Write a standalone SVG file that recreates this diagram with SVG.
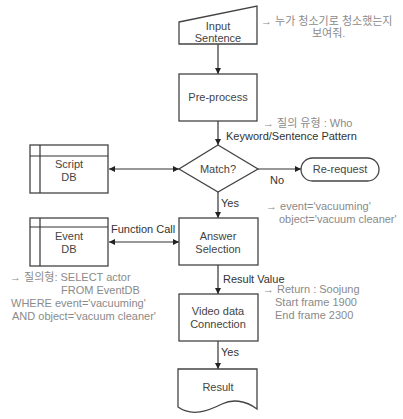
<svg xmlns="http://www.w3.org/2000/svg" width="403" height="419" viewBox="0 0 403 419">
<defs>
<marker id="ah" viewBox="0 0 10 10" refX="10" refY="5" markerWidth="6" markerHeight="6" markerUnits="userSpaceOnUse" orient="auto-start-reverse">
<path d="M0,0 L10,5 L0,10 Z" fill="#222"/>
</marker>
<style>
.s{fill:#fff;stroke:#444;stroke-width:1.3}
.l{fill:none;stroke:#333;stroke-width:1.2}
.t{font-family:"Liberation Sans","Noto Sans CJK KR",sans-serif;font-size:11px;fill:#444;text-anchor:middle}
.a{font-family:"Liberation Sans","Noto Sans CJK KR",sans-serif;font-size:11px;fill:#8a8a8a}
.c{font-family:"Liberation Sans","Noto Sans CJK KR",sans-serif;font-size:11px;fill:#333}
</style>
</defs>
<rect width="403" height="419" fill="#fff"/>

<g id="connectors">
<line class="l" x1="218" y1="44" x2="218" y2="74" marker-end="url(#ah)"/>
<line class="l" x1="218" y1="121" x2="218" y2="145" marker-end="url(#ah)"/>
<line class="l" x1="109" y1="169" x2="179" y2="169" marker-start="url(#ah)" marker-end="url(#ah)"/>
<line class="l" x1="258" y1="169" x2="301" y2="169" marker-end="url(#ah)"/>
<text class="c" x="270" y="184">No</text>
<line class="l" x1="218" y1="192" x2="218" y2="218" marker-end="url(#ah)"/>
<text class="c" x="221" y="207">Yes</text>
<line class="l" x1="109" y1="242" x2="179" y2="242" marker-start="url(#ah)" marker-end="url(#ah)"/>
<text class="c" x="111" y="233">Function Call</text>
<line class="l" x1="218" y1="265" x2="218" y2="294" marker-end="url(#ah)"/>
<text class="c" x="223" y="283">Result Value</text>
<line class="l" x1="218" y1="341" x2="218" y2="369" marker-end="url(#ah)"/>
<text class="c" x="221" y="356">Yes</text>
</g>

<g id="input">
<polygon class="s" points="179,22 257,6 257,44 179,44"/>
<text class="t" x="218" y="30">Input</text>
<text class="t" x="218" y="42">Sentence</text>
</g>

<g id="preprocess">
<rect class="s" x="179" y="74" width="78" height="47"/>
<text class="t" x="218" y="101">Pre-process</text>
</g>

<g id="match">
<polygon class="s" points="218,145 258,169 218,192 179,169"/>
<text class="t" x="218" y="173">Match?</text>
</g>

<g id="scriptdb">
<rect class="s" x="30" y="145" width="78" height="48"/>
<line class="l" x1="40" y1="145" x2="40" y2="193"/>
<line class="l" x1="30" y1="156" x2="108" y2="156"/>
<text class="t" x="69" y="168">Script</text>
<text class="t" x="69" y="181">DB</text>
</g>

<g id="rerequest">
<rect class="s" x="301" y="158" width="78" height="23" rx="11.5"/>
<text class="t" x="340" y="173">Re-request</text>
</g>

<g id="answer">
<rect class="s" x="179" y="218" width="79" height="47"/>
<text class="t" x="218" y="240">Answer</text>
<text class="t" x="218" y="253">Selection</text>
</g>

<g id="eventdb">
<rect class="s" x="30" y="218" width="78" height="48"/>
<line class="l" x1="40" y1="218" x2="40" y2="266"/>
<line class="l" x1="30" y1="227" x2="108" y2="227"/>
<text class="t" x="69" y="240">Event</text>
<text class="t" x="69" y="253">DB</text>
</g>

<g id="video">
<rect class="s" x="179" y="294" width="79" height="47"/>
<text class="t" x="218" y="315">Video data</text>
<text class="t" x="218" y="328">Connection</text>
</g>

<g id="result">
<path class="s" d="M178,369 H257 V409 C245,400 232,399 222,404 C208,411 192,417 178,407 Z"/>
<text class="t" x="218" y="391">Result</text>
</g>

<g id="notes">
<text class="a" x="261" y="25">→ 누가 청소기로 청소했는지</text>
<text class="a" x="312" y="37">보여줘.</text>
<text class="a" x="263" y="127">→ 질의 유형 : Who</text>
<text class="c" x="226" y="140">Keyword/Sentence Pattern</text>
<text class="a" x="266" y="210">→ event='vacuuming'</text>
<text class="a" x="279" y="223">object='vacuum cleaner'</text>
<text class="a" x="263" y="293">→ Return : Soojung</text>
<text class="a" x="275" y="306">Start frame 1900</text>
<text class="a" x="275" y="319">End frame 2300</text>
<text class="a" x="10" y="281">→ 질의형: SELECT actor</text>
<text class="a" x="61" y="294">FROM EventDB</text>
<text class="a" x="11" y="307">WHERE event='vacuuming'</text>
<text class="a" x="12" y="320">AND object='vacuum cleaner'</text>
</g>
</svg>
